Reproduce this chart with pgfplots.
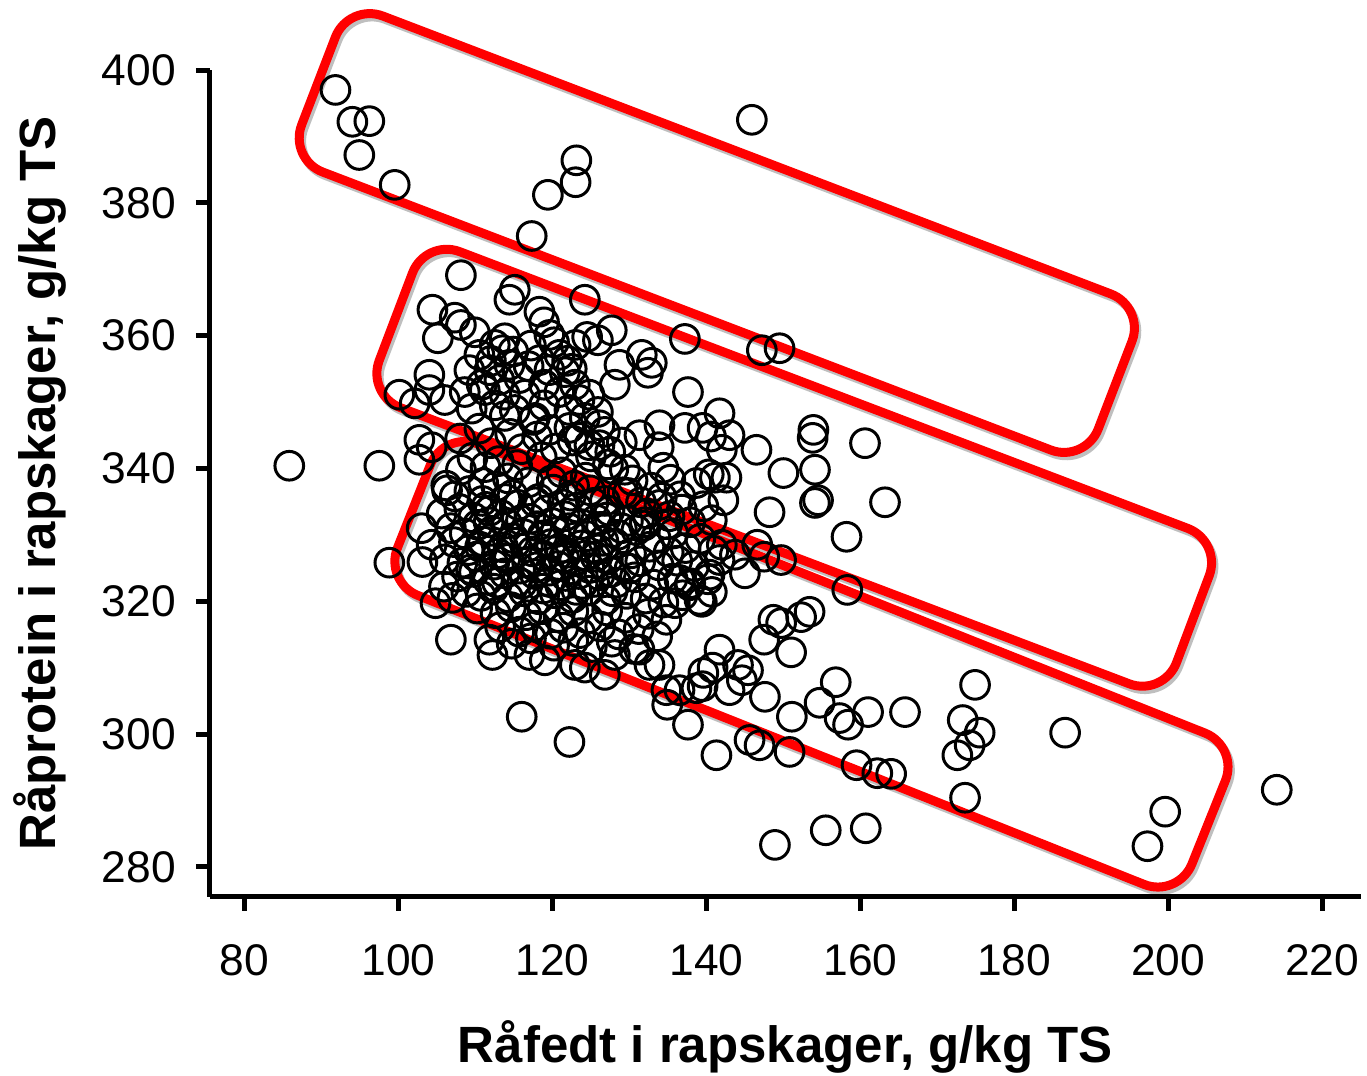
\documentclass[border=0pt]{standalone}
\usepackage{fontspec}
\setmainfont{Liberation Sans}
\usepackage{pgfplots}
\usepackage{pgfplotstable}
\pgfplotsset{compat=1.18}

% Raafedt (x) mod raaprotein (y), g/kg TS
\pgfplotstableread{
x y
91.8 397.0
94.0 392.2
96.2 392.3
94.9 387.2
99.5 382.7
145.9 392.5
123.1 386.4
123.0 383.1
119.4 381.2
117.3 375.0
85.8 340.4
97.5 340.4
98.8 325.8
106.8 314.2
116.0 302.6
122.2 298.8
148.9 283.3
155.5 285.5
160.7 285.8
141.3 296.8
137.6 301.4
186.6 300.2
214.1 291.6
199.6 288.3
197.3 283.1
173.6 290.4
174.9 307.4
173.3 302.1
175.5 300.2
174.2 298.3
172.6 296.8
165.8 303.3
161.0 303.3
162.2 294.1
164.0 294.0
159.5 295.3
158.4 301.4
156.8 307.8
154.7 304.7
157.3 302.4
151.1 302.6
150.8 297.3
146.9 298.3
145.6 299.1
147.6 305.6
153.4 318.4
152.3 317.6
149.7 316.7
148.7 317.2
151.0 312.3
147.5 314.2
144.1 310.4
145.4 309.6
144.6 308.1
143.0 306.6
141.7 312.7
139.6 309.2
139.5 307.2
140.8 310.0
138.7 306.9
160.6 343.8
163.2 334.9
158.2 329.7
158.3 321.7
153.8 344.6
153.9 345.8
154.1 339.8
154.5 335.2
154.1 334.8
150.0 339.3
148.2 333.4
146.5 342.8
146.6 328.5
147.5 326.7
149.7 326.2
145.0 324.2
147.2 357.8
149.5 358.1
141.7 348.3
143.0 345.0
142.0 342.8
141.1 338.6
142.6 338.6
142.2 335.2
140.7 332.2
139.5 346.1
137.2 346.1
137.6 351.5
137.2 359.5
138.7 337.8
133.9 346.5
133.8 343.2
131.3 345.0
129.4 339.8
129.8 336.3
133.9 334.5
135.2 332.8
132.0 331.9
140.6 344.8
140.3 339.1
139.6 334.3
135.3 338.3
136.6 335.8
134.4 340.1
136.5 323.2
137.8 322.4
140.4 324.0
141.7 326.2
142.0 328.5
143.7 327.0
139.1 320.2
140.7 321.4
135.9 319.7
108.1 369.1
104.4 363.9
107.3 362.7
105.1 359.6
108.1 361.6
109.9 360.5
114.4 365.4
115.1 366.9
118.3 363.6
118.9 362.0
119.6 360.1
124.2 365.4
124.5 359.8
125.9 359.3
127.7 360.8
128.7 355.6
128.1 352.6
131.6 357.1
132.9 355.9
132.4 354.4
104.0 354.1
104.0 351.8
100.1 351.1
102.1 349.8
106.0 350.3
108.6 351.5
109.2 354.8
110.5 357.1
112.5 358.6
113.8 359.6
111.8 354.8
110.8 352.6
113.1 353.3
114.4 355.6
115.7 353.6
113.8 351.1
112.5 349.5
115.1 348.8
116.4 351.1
118.3 356.3
119.6 354.8
120.9 357.1
121.6 354.5
118.9 352.6
120.9 351.5
122.9 352.6
123.5 350.3
124.8 351.1
122.2 348.8
124.2 347.6
118.9 349.5
117.7 347.6
119.6 345.8
122.2 346.1
126.1 346.5
126.8 345.5
125.9 348.5
126.1 343.5
123.5 344.6
124.8 343.5
112.0 356.2
113.5 357.8
111.2 351.8
114.9 357.6
116.9 355.4
117.2 358.5
120.2 359.0
121.9 356.2
123.0 358.6
122.5 355.0
102.7 344.3
104.3 343.2
102.7 341.3
108.0 344.5
110.5 346.0
112.0 343.8
114.5 345.2
116.0 342.9
118.0 344.8
120.4 343.0
122.6 344.2
125.0 341.8
127.5 342.5
129.0 343.9
117.5 347.3
113.8 347.9
109.5 349.0
127.2 340.6
103.0 331.0
103.1 325.9
104.8 319.7
106.3 336.7
105.9 322.2
107.0 320.5
106.2 337.4
108.1 339.8
109.6 341.6
111.3 340.2
113.0 341.1
115.4 340.5
118.6 341.7
121.2 339.4
124.3 338.6
127.9 339.9
130.4 338.2
132.8 337.1
107.3 335.8
109.2 336.6
110.9 335.1
112.7 337.3
114.8 336.0
116.9 337.9
118.2 335.4
120.1 336.8
122.4 335.9
124.9 336.7
126.8 335.1
129.1 336.4
131.5 334.9
134.2 335.6
136.8 333.8
105.6 333.2
107.9 333.9
109.7 332.6
111.4 334.2
113.3 333.0
115.6 334.5
117.1 332.4
119.3 333.7
121.6 332.8
123.2 334.1
125.7 332.3
127.4 333.6
129.8 332.1
132.3 333.2
134.9 331.6
137.9 331.9
106.8 331.0
108.6 330.2
110.3 331.5
112.2 330.6
114.1 331.7
116.3 330.1
118.0 331.3
120.4 330.4
122.1 331.0
124.6 329.8
126.3 331.2
128.5 330.0
130.9 330.7
133.4 329.5
135.7 330.2
139.2 329.4
104.3 328.5
107.2 328.9
109.1 327.7
111.0 329.0
113.6 328.1
115.2 328.8
117.4 327.5
119.8 328.6
121.9 327.3
123.7 328.4
125.9 327.8
128.1 328.7
130.2 327.2
132.6 328.2
135.1 327.4
137.3 328.0
140.9 327.6
106.0 326.3
108.3 325.8
110.1 326.7
112.4 325.5
114.3 326.4
116.7 325.9
118.9 326.8
120.7 325.3
122.8 326.1
124.8 325.0
127.2 326.3
129.3 325.2
131.4 326.0
133.8 325.4
136.2 326.1
138.4 325.3
107.6 323.7
109.8 324.4
111.6 323.2
113.8 324.2
115.4 323.0
117.7 324.1
119.6 322.9
121.7 323.8
123.9 322.6
126.1 323.9
128.3 322.8
130.7 323.6
133.1 322.5
135.6 323.4
137.9 322.7
140.2 323.3
108.8 321.4
110.7 320.8
112.3 321.9
114.2 320.6
116.3 321.5
118.2 320.3
120.3 321.2
122.6 320.5
124.7 321.6
126.9 320.2
129.6 321.1
132.1 320.4
134.4 319.8
136.9 320.9
139.4 319.9
110.2 318.9
112.6 318.2
114.6 319.1
116.6 317.9
118.7 318.8
120.8 317.6
122.7 318.5
124.6 317.4
127.1 318.6
129.5 317.5
132.4 318.1
134.8 317.2
113.2 316.1
115.7 315.4
117.8 316.3
119.7 315.1
121.4 316.0
123.6 315.2
126.2 316.2
128.6 315.0
131.2 315.8
133.6 314.7
111.8 314.2
114.7 313.6
117.2 314.4
120.2 313.3
122.7 314.0
125.1 313.1
127.7 313.9
130.6 312.8
112.2 311.9
117.0 311.9
119.0 311.1
122.9 310.4
124.2 310.0
126.8 308.9
128.1 311.9
131.3 312.7
132.6 310.4
133.9 310.4
134.8 306.6
134.9 304.4
136.5 306.6
111.8 333.6
113.9 335.4
115.9 332.2
117.8 334.9
119.9 331.8
121.3 334.6
123.8 331.6
125.3 334.8
112.9 327.2
114.9 329.5
116.8 328.2
118.7 329.9
120.9 327.9
122.9 329.6
124.3 326.9
126.6 329.1
111.7 331.9
113.9 326.5
115.8 324.9
117.9 325.1
119.6 324.6
121.5 326.6
123.4 324.1
125.6 326.7
127.6 324.4
110.6 328.2
109.4 324.8
112.8 322.8
116.0 322.6
118.8 321.9
121.0 322.4
123.1 321.7
125.4 322.9
127.8 321.5
130.0 324.9
129.0 331.0
131.9 331.4
127.0 332.6
111.0 337.8
114.2 338.5
119.9 338.2
122.8 337.4
}\pts

\tikzset{
  ring/.style={draw=red, line width=2.7pt, rounded corners=11pt},
  ringshadow/.style={draw=black, opacity=0.25, line width=2.7pt, rounded corners=11pt,
                     xshift=0.7pt, yshift=-1pt}
}

\begin{document}
\begin{tikzpicture}
\begin{axis}[
  at={(0,0)}, anchor=south west,
  scale only axis, width=345.2pt, height=248pt,
  xmin=75.5, xmax=225, ymin=275.5, ymax=400,
  axis x line*=bottom, axis y line*=left,
  axis line style={line width=1.5pt},
  xtick={80,100,...,220}, ytick={280,300,...,400},
  tick align=outside, major tick length=4.2pt,
  every tick/.style={black, line width=1.5pt},
  tick label style={font=\fontsize{13.3}{15}\selectfont},
  xticklabel style={yshift=-6.7pt},
  yticklabel style={xshift=-2.5pt},
  /pgf/number format/assume math mode=true,
  label style={font=\fontsize{15.3}{18}\selectfont\bfseries},
  xlabel={Råfedt i rapskager, g/kg TS},
  ylabel={Råprotein i rapskager, g/kg TS},
  xlabel style={at={(axis description cs:0.5,-0.1815)}, anchor=center},
  ylabel style={at={(axis description cs:-0.1477,0.5)}, anchor=center},
  clip=false,
]
\addplot[only marks, mark=o, mark size=4.3pt, mark options={line width=0.9pt, draw=black}]
  table[x=x, y=y] {\pts};

% grupper: skygge
\draw[ringshadow] (axis cs:89.6,398.35) -- (axis cs:93.5,410.1)
  -- (axis cs:197.0,364.3) -- (axis cs:189.2,340.8) -- (axis cs:85.7,386.6) -- cycle;
\draw[ringshadow] (axis cs:99.65,362.85) -- (axis cs:103.5,374.6)
  -- (axis cs:207.0,329.0) -- (axis cs:199.4,305.6) -- (axis cs:95.8,351.1) -- cycle;
\draw[ringshadow] (axis cs:102.0,334.3) -- (axis cs:105.9,345.7)
  -- (axis cs:209.2,298.1) -- (axis cs:201.3,275.3) -- (axis cs:98.1,322.9) -- cycle;
% grupper: roede rammer
\draw[ring] (axis cs:89.6,398.35) -- (axis cs:93.5,410.1)
  -- (axis cs:197.0,364.3) -- (axis cs:189.2,340.8) -- (axis cs:85.7,386.6) -- cycle;
\draw[ring] (axis cs:99.65,362.85) -- (axis cs:103.5,374.6)
  -- (axis cs:207.0,329.0) -- (axis cs:199.4,305.6) -- (axis cs:95.8,351.1) -- cycle;
\draw[ring] (axis cs:102.0,334.3) -- (axis cs:105.9,345.7)
  -- (axis cs:209.2,298.1) -- (axis cs:201.3,275.3) -- (axis cs:98.1,322.9) -- cycle;
\end{axis}
\pgfresetboundingbox
\path[use as bounding box] (-63pt,-53.5pt) rectangle (347.1pt,269pt);
\end{tikzpicture}
\end{document}
